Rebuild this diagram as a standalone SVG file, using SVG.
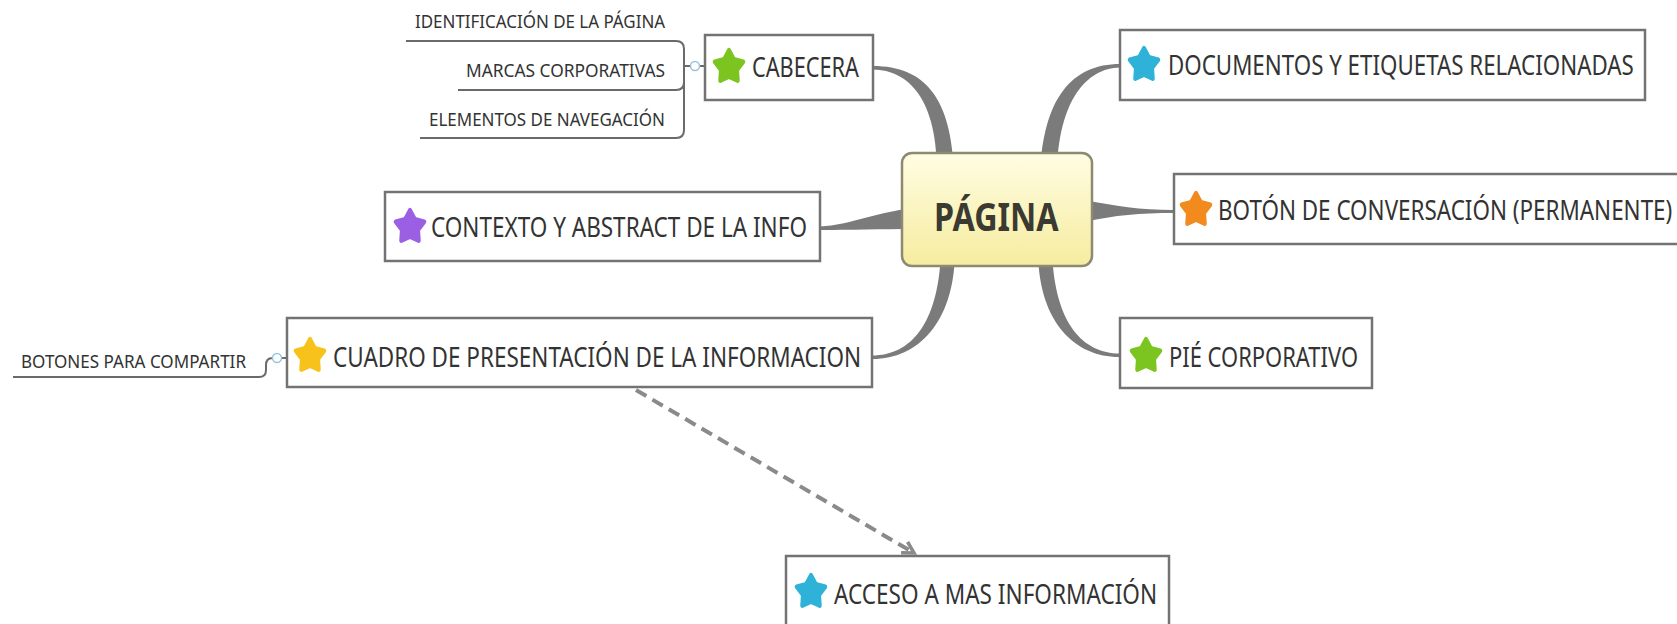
<svg xmlns="http://www.w3.org/2000/svg" width="1677" height="624" viewBox="0 0 1677 624">
<style>
.box{fill:#fff;stroke:#737373;stroke-width:2.5}
.t{font-family:"Noto Sans","Open Sans",sans-serif;font-size:27px;fill:#333}
.st{font-family:"Noto Sans","Open Sans",sans-serif;font-size:19px;fill:#333}
.br{fill:#7b7b7b}
.sub{fill:none;stroke:#6a6a6a;stroke-width:2}
.col{fill:#fff;stroke:#9cc3e0;stroke-width:1.5}
.dash{fill:none;stroke:#8a8a8a;stroke-width:4;stroke-dasharray:12 7}
</style>
<defs>
<path id="star" d="M0,-13 L4.3,-5.9 L12.4,-4 L7,2.3 L7.6,10.5 L0,7.4 L-7.6,10.5 L-7,2.3 L-12.4,-4 L-4.3,-5.9 Z" stroke-linejoin="round" stroke-width="3.5"/>
<linearGradient id="pg" x1="0" y1="0" x2="0" y2="1">
<stop offset="0" stop-color="#fffde2"/>
<stop offset="1" stop-color="#f6ec9f"/>
</linearGradient>
<marker id="arr" viewBox="0 0 10 10" refX="8" refY="5" markerWidth="4" markerHeight="4" orient="auto" markerUnits="strokeWidth">
<path d="M1,1 L8,5 L1,9" fill="none" stroke="#8a8a8a" stroke-width="2.2"/>
</marker>
</defs>
<g id="connectors">
<path class="br" d="M954,175 C952,98 925,66 873,66 L873,69.5 C909,70 938,100 937,175 Z"/>
<path class="br" d="M1040,175 C1043,98 1072,64 1120,64 L1120,67.5 C1087,68 1058,100 1057,175 Z"/>
<path class="br" d="M915,208 C880,211 850,225 820,226.5 L820,230 C850,230 880,229 915,229 Z"/>
<path class="br" d="M1085,200 C1115,206 1140,210 1174,210 L1174,213 C1140,213 1115,215 1085,222 Z"/>
<path class="br" d="M941,250 C939,322 912,355.5 872,355.5 L872,359 C918,359.5 955,322 955,250 Z"/>
<path class="br" d="M1052,250 C1054,322 1082,353.5 1120,353.5 L1120,357 C1075,357.5 1038,322 1038,250 Z"/>
<path class="sub" d="M406,41 H676 Q684,41 684,49 V130 Q684,138 676,138 H420"/>
<path class="sub" d="M458,90 H676 Q684,90 684,82"/>
<path class="sub" d="M684,66 H690.5 M699.5,66 H705"/>
<circle class="col" cx="695" cy="66" r="4.5"/>
<path class="sub" d="M13,377 H259 Q266,377 266,370 V365 Q266,358 272.5,358 M281.5,358 H287"/>
<circle class="col" cx="277" cy="358" r="4.5"/>
<path class="dash" d="M636,390 L914,553" marker-end="url(#arr)"/>
</g>
<g id="pagina">
<rect x="902" y="153" width="190" height="113" rx="10" fill="url(#pg)" stroke="#8c8a72" stroke-width="2.5"/>
<text transform="translate(934,231) scale(0.82,1)" textLength="152" lengthAdjust="spacingAndGlyphs" style="font-family:'Noto Sans','Open Sans',sans-serif;font-size:39px;font-weight:bold;fill:#3a3a32">PÁGINA</text>
</g>
<g id="cabecera">
<rect class="box" x="705" y="35" width="168" height="65"/>
<use href="#star" transform="translate(729,67) scale(1.15,1.3)" fill="#7cc520" stroke="#7cc520"/>
<text class="t" transform="translate(752,77) scale(0.82,1)" textLength="130.5" lengthAdjust="spacingAndGlyphs">CABECERA</text>
</g>
<g id="identificacion">
<text class="st" transform="translate(415,28) scale(0.82,1)" textLength="305" lengthAdjust="spacingAndGlyphs">IDENTIFICACIÓN DE LA PÁGINA</text>
</g>
<g id="marcas">
<text class="st" transform="translate(466,77) scale(0.82,1)" textLength="242.7" lengthAdjust="spacingAndGlyphs">MARCAS CORPORATIVAS</text>
</g>
<g id="elementos">
<text class="st" transform="translate(429,126) scale(0.82,1)" textLength="287.8" lengthAdjust="spacingAndGlyphs">ELEMENTOS DE NAVEGACIÓN</text>
</g>
<g id="documentos">
<rect class="box" x="1120" y="30" width="525" height="70"/>
<use href="#star" transform="translate(1144,65) scale(1.15,1.3)" fill="#2eb2d8" stroke="#2eb2d8"/>
<text class="t" transform="translate(1168,75) scale(0.82,1)" textLength="568" lengthAdjust="spacingAndGlyphs">DOCUMENTOS Y ETIQUETAS RELACIONADAS</text>
</g>
<g id="contexto">
<rect class="box" x="385" y="192" width="435" height="69"/>
<use href="#star" transform="translate(410,227) scale(1.15,1.3)" fill="#9b5fe3" stroke="#9b5fe3"/>
<text class="t" transform="translate(431,237) scale(0.82,1)" textLength="458.5" lengthAdjust="spacingAndGlyphs">CONTEXTO Y ABSTRACT DE LA INFO</text>
</g>
<g id="boton">
<rect class="box" x="1174" y="174" width="540" height="70"/>
<use href="#star" transform="translate(1196,210) scale(1.15,1.3)" fill="#f28a1e" stroke="#f28a1e"/>
<text class="t" transform="translate(1218,220) scale(0.82,1)" textLength="554" lengthAdjust="spacingAndGlyphs">BOTÓN DE CONVERSACIÓN (PERMANENTE)</text>
</g>
<g id="cuadro">
<rect class="box" x="287" y="318" width="585" height="69"/>
<use href="#star" transform="translate(310,356) scale(1.15,1.3)" fill="#f7c21b" stroke="#f7c21b"/>
<text class="t" transform="translate(333,367) scale(0.82,1)" textLength="644" lengthAdjust="spacingAndGlyphs">CUADRO DE PRESENTACIÓN DE LA INFORMACION</text>
</g>
<g id="botones">
<text class="st" transform="translate(21,368) scale(0.82,1)" textLength="274.4" lengthAdjust="spacingAndGlyphs">BOTONES PARA COMPARTIR</text>
</g>
<g id="pie">
<rect class="box" x="1120" y="318" width="252" height="70"/>
<use href="#star" transform="translate(1146,356) scale(1.15,1.3)" fill="#7cc520" stroke="#7cc520"/>
<text class="t" transform="translate(1169,367) scale(0.82,1)" textLength="230.5" lengthAdjust="spacingAndGlyphs">PIÉ CORPORATIVO</text>
</g>
<g id="acceso">
<rect class="box" x="786" y="556" width="383" height="80"/>
<use href="#star" transform="translate(811,592) scale(1.15,1.3)" fill="#2eb2d8" stroke="#2eb2d8"/>
<text class="t" transform="translate(834,604) scale(0.82,1)" textLength="394" lengthAdjust="spacingAndGlyphs">ACCESO A MAS INFORMACIÓN</text>
</g>
</svg>
